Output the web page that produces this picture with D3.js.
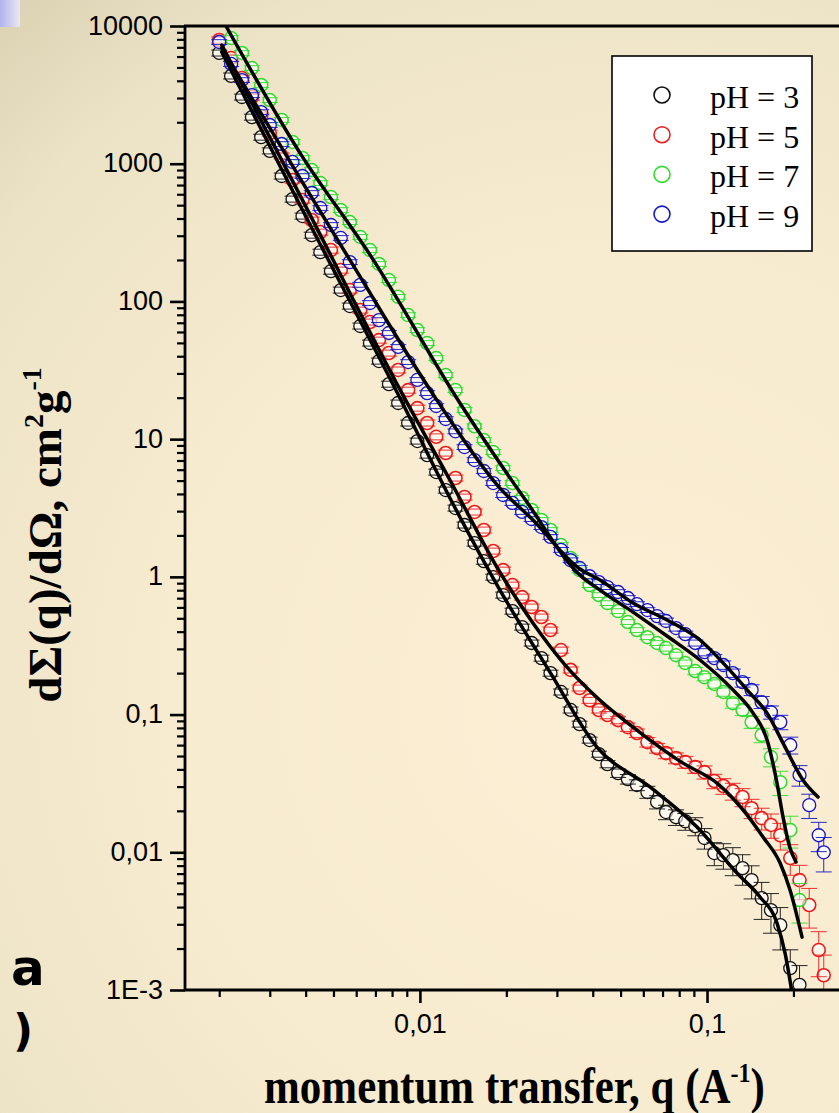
<!DOCTYPE html>
<html>
<head>
<meta charset="utf-8">
<script src="https://cdn.jsdelivr.net/npm/d3@7"></script>
<style>
  html, body { margin: 0; padding: 0; }
  svg { display: block; }
</style>
</head>
<body>
<svg id="chart" width="839" height="1113"></svg>
<script>
// Momentum transfer grid shared by all samples (1/Å)
const qValues = [
  0.0020, 0.0022, 0.0024, 0.0026, 0.0028, 0.0030, 0.0033, 0.0036, 0.0039, 0.0042,
  0.0045, 0.0049, 0.0053, 0.0057, 0.0062, 0.0067, 0.0072, 0.0078, 0.0084, 0.0091,
  0.0098, 0.0106, 0.0114, 0.0123, 0.0133, 0.0143, 0.0155, 0.0167, 0.0180, 0.0195,
  0.0210, 0.0227, 0.0245, 0.0265, 0.0285, 0.0310, 0.0335, 0.0360, 0.0390, 0.0420,
  0.045, 0.049, 0.053, 0.057, 0.062, 0.067, 0.072, 0.078, 0.084, 0.091,
  0.098, 0.106, 0.114, 0.123, 0.133, 0.143, 0.155, 0.167, 0.180, 0.195,
  0.210, 0.227, 0.245, 0.255
];

// Differential cross-section dΣ/dΩ (cm² g⁻¹) per pH, null where not measured
const intensityPH3 = [
  6370, 4340, 3050, 2180, 1560, 1240, 814, 554, 417, 303,
  228, 166, 121, 92.6, 66.3, 49.9, 36.9, 25.1, 18.3, 13.1,
  9.69, 7.66, 5.77, 4.27, 3.16, 2.38, 1.76, 1.30, 0.996, 0.738,
  0.564, 0.432, 0.331, 0.257, 0.200, 0.146, 0.108, 0.0853, 0.0653, 0.0516,
  0.0437, 0.0376, 0.0340, 0.0308, 0.0274, 0.0232, 0.0196, 0.0180, 0.0168, 0.0155,
  0.0127, 0.00987, 0.00954, 0.00878, 0.00768, 0.00628, 0.00465, 0.00380, 0.00296, 0.00144,
  0.00109, null, null, null
];
const intensityPH5 = [
  7910, 5860, 4190, 3050, 2220, 1670, 1140, 761, 545, 390,
  319, 236, 169, 121, 86.6, 70.9, 52.4, 42.2, 31.8, 22.7,
  16.8, 13.1, 10.4, 7.93, 5.22, 3.80, 2.96, 2.19, 1.54, 1.12,
  0.872, 0.713, 0.604, 0.511, 0.411, 0.294, 0.211, 0.156, 0.127, 0.108,
  0.0992, 0.0912, 0.0811, 0.0734, 0.0631, 0.0571, 0.0525, 0.0483, 0.0452, 0.0416,
  0.0382, 0.0329, 0.0303, 0.0278, 0.0252, 0.0209, 0.0177, 0.0158, 0.0133, 0.00908,
  0.00628, 0.00414, 0.00195, 0.00128
];
const intensityPH7 = [
  null, 8180, 6370, 4950, 3730, 2900, 2080, 1440, 1100, 900,
  724, 573, 461, 377, 294, 236, 187, 143, 108, 79.6,
  62.0, 49.9, 38.8, 29.2, 22.7, 16.3, 12.4, 9.85, 8.06, 6.17,
  4.80, 3.74, 3.06, 2.59, 2.19, 1.70, 1.37, 1.12, 0.872, 0.738,
  0.645, 0.564, 0.470, 0.411, 0.365, 0.331, 0.304, 0.270, 0.237, 0.207,
  0.187, 0.167, 0.146, 0.121, 0.108, 0.0882, 0.0710, 0.0491, 0.0323, 0.0145,
  0.00450, null, null, null
];
const intensityPH9 = [
  7650, 5300, 4050, 3150, 2370, 1910, 1390, 1030, 814, 613,
  477, 359, 289, 193, 132, 97.4, 73.2, 59.0, 46.7, 36.3,
  26.9, 21.6, 17.4, 14.0, 11.4, 8.76, 7.05, 5.87, 4.80, 3.93,
  3.44, 2.96, 2.63, 2.30, 1.95, 1.57, 1.32, 1.16, 1.01, 0.917,
  0.843, 0.776, 0.702, 0.634, 0.574, 0.519, 0.478, 0.425, 0.384, 0.331,
  0.284, 0.257, 0.229, 0.200, 0.172, 0.151, 0.123, 0.104, 0.0882, 0.0601,
  0.0364, 0.0220, 0.0133, 0.0100
];

// Relative uncertainties of the measured points
const errorPH3 = [
  0.05, 0.05, 0.05, 0.05, 0.05, 0.05, 0.05, 0.05, 0.05, 0.05,
  0.05, 0.05, 0.05, 0.05, 0.05, 0.05, 0.05, 0.05, 0.05, 0.05,
  0.05, 0.05, 0.05, 0.05, 0.05, 0.05, 0.05, 0.05, 0.05, 0.05,
  0.05, 0.05, 0.05, 0.05, 0.05, 0.05, 0.05, 0.05, 0.05, 0.05,
  0.06, 0.07, 0.08, 0.09, 0.10, 0.11, 0.12, 0.13, 0.14, 0.15,
  0.17, 0.19, 0.21, 0.23, 0.25, 0.27, 0.30, 0.32, 0.34, 0.36,
  0.38, null, null, null
];
const errorPH5 = [
  0.05, 0.05, 0.05, 0.05, 0.05, 0.05, 0.05, 0.05, 0.05, 0.05,
  0.05, 0.05, 0.05, 0.05, 0.05, 0.05, 0.05, 0.05, 0.05, 0.05,
  0.05, 0.05, 0.05, 0.05, 0.05, 0.05, 0.05, 0.05, 0.05, 0.05,
  0.05, 0.05, 0.05, 0.05, 0.05, 0.05, 0.05, 0.05, 0.05, 0.05,
  0.06, 0.06, 0.07, 0.07, 0.08, 0.08, 0.09, 0.09, 0.10, 0.10,
  0.11, 0.12, 0.13, 0.14, 0.15, 0.16, 0.18, 0.20, 0.22, 0.25,
  0.28, 0.32, 0.36, 0.40
];
const errorPH7 = [
  null, 0.04, 0.04, 0.04, 0.04, 0.04, 0.04, 0.04, 0.04, 0.04,
  0.04, 0.04, 0.04, 0.04, 0.04, 0.04, 0.04, 0.04, 0.04, 0.04,
  0.04, 0.04, 0.04, 0.04, 0.04, 0.04, 0.04, 0.04, 0.04, 0.04,
  0.04, 0.04, 0.04, 0.04, 0.04, 0.04, 0.04, 0.04, 0.04, 0.04,
  0.04, 0.04, 0.04, 0.04, 0.04, 0.04, 0.05, 0.05, 0.05, 0.06,
  0.06, 0.07, 0.07, 0.08, 0.09, 0.10, 0.12, 0.15, 0.20, 0.26,
  0.32, null, null, null
];
const errorPH9 = [
  0.04, 0.04, 0.04, 0.04, 0.04, 0.04, 0.04, 0.04, 0.04, 0.04,
  0.04, 0.04, 0.04, 0.04, 0.04, 0.04, 0.04, 0.04, 0.04, 0.04,
  0.04, 0.04, 0.04, 0.04, 0.04, 0.04, 0.04, 0.04, 0.04, 0.04,
  0.04, 0.04, 0.04, 0.04, 0.04, 0.04, 0.04, 0.04, 0.04, 0.04,
  0.04, 0.04, 0.04, 0.04, 0.04, 0.04, 0.05, 0.05, 0.05, 0.05,
  0.06, 0.06, 0.07, 0.07, 0.08, 0.09, 0.10, 0.11, 0.12, 0.14,
  0.17, 0.20, 0.24, 0.28
];

// Model fits
const fitQ_PH3 = [0.00204, 0.00382, 0.00873, 0.01272, 0.0190, 0.02838, 0.04136, 0.0633, 0.0923, 0.1272, 0.1530, 0.1753, 0.1870, 0.1978];
const fitI_PH3 = [6470, 501, 18.0, 3.74, 0.802, 0.2035, 0.0581, 0.0298, 0.01524, 0.00706, 0.00473, 0.00306, 0.00185, 0.00095];
const fitQ_PH5 = [0.00204, 0.00382, 0.00873, 0.01272, 0.0190, 0.02475, 0.03252, 0.04239, 0.05524, 0.0633, 0.08249, 0.1083, 0.1335, 0.1567, 0.1797, 0.1946, 0.2143];
const fitI_PH5 = [7280, 592, 20.9, 5.05, 1.08, 0.462, 0.221, 0.127, 0.0811, 0.0653, 0.0444, 0.0318, 0.0203, 0.0129, 0.00835, 0.00532, 0.00242];
const fitQ_PH7 = [0.00211, 0.00382, 0.00681, 0.01378, 0.02359, 0.0361, 0.04239, 0.05524, 0.07255, 0.09453, 0.1232, 0.1447, 0.1619, 0.1753, 0.1840, 0.1946, 0.2042];
const fitI_PH7 = [10000, 1200, 207, 18.3, 3.49, 1.03, 0.802, 0.555, 0.372, 0.249, 0.151, 0.1025, 0.0653, 0.0318, 0.0180, 0.01073, 0.00849];
const fitQ_PH9 = [0.00204, 0.00382, 0.005843, 0.01146, 0.0190, 0.02475, 0.0361, 0.04239, 0.05524, 0.07255, 0.09453, 0.1174, 0.1412, 0.1619, 0.1840, 0.2160, 0.2436];
const fitI_PH9 = [6920, 787, 184, 19.2, 4.41, 2.59, 1.14, 0.948, 0.645, 0.486, 0.348, 0.221, 0.143, 0.1025, 0.0621, 0.0334, 0.0252];

const seriesNames = ["pH = 3", "pH = 5", "pH = 7", "pH = 9"];
const seriesColors = ["#111111", "#ee1b1b", "#2edb2e", "#1414c8"];

const yTickValues = [10000, 1000, 100, 10, 1, 0.1, 0.01, 0.001];
const yTickLabels = ["10000", "1000", "100", "10", "1", "0,1", "0,01", "1E-3"];
const xTickValues = [0.01, 0.1];
const xTickLabels = ["0,01", "0,1"];

// ---------------------------------------------------------------------------
const W = 839, H = 1113;
const svg = d3.select("#chart");
const defs = svg.append("defs");

// warm paper background, darker towards the upper left
const bgGrad = defs.append("radialGradient")
  .attr("id", "bgGrad").attr("gradientUnits", "userSpaceOnUse")
  .attr("cx", 620).attr("cy", 700).attr("r", 960);
bgGrad.append("stop").attr("offset", 0).attr("stop-color", "#fcefd5");
bgGrad.append("stop").attr("offset", 0.5).attr("stop-color", "#f6eacf");
bgGrad.append("stop").attr("offset", 0.8).attr("stop-color", "#ece3c6");
bgGrad.append("stop").attr("offset", 1).attr("stop-color", "#d8cfb1");
svg.append("rect").attr("width", W).attr("height", H).attr("fill", "url(#bgGrad)");

const cornerGrad = defs.append("linearGradient").attr("id", "cornerGrad");
cornerGrad.append("stop").attr("offset", 0).attr("stop-color", "#b2b2ee");
cornerGrad.append("stop").attr("offset", 1).attr("stop-color", "#eae8f0");
svg.append("rect").attr("x", 0).attr("y", 0).attr("width", 20).attr("height", 27)
  .attr("fill", "url(#cornerGrad)");

// scales
const x = d3.scaleLog().domain([0.00152, 0.3]).range([185, 844]);
const y = d3.scaleLog().domain([0.001, 10000]).range([990, 26]);

defs.append("clipPath").attr("id", "plotClip")
  .append("rect").attr("x", 185).attr("y", 26).attr("width", 659).attr("height", 964);

const series = [
  { name: seriesNames[0], color: seriesColors[0], values: intensityPH3, errors: errorPH3, fitQ: fitQ_PH3, fitI: fitI_PH3, sw: 1.3 },
  { name: seriesNames[1], color: seriesColors[1], values: intensityPH5, errors: errorPH5, fitQ: fitQ_PH5, fitI: fitI_PH5, sw: 1.6 },
  { name: seriesNames[2], color: seriesColors[2], values: intensityPH7, errors: errorPH7, fitQ: fitQ_PH7, fitI: fitI_PH7, sw: 1.5 },
  { name: seriesNames[3], color: seriesColors[3], values: intensityPH9, errors: errorPH9, fitQ: fitQ_PH9, fitI: fitI_PH9, sw: 1.3 }
];

const R = 6.5;      // marker radius
const CAP = 8;      // half width of error-bar caps
const plot = svg.append("g").attr("clip-path", "url(#plotClip)");

// measured points with error bars
series.forEach(s => {
  const pts = qValues.map((q, i) => ({ q, v: s.values[i], e: s.errors[i] }))
    .filter(d => d.v != null);
  const g = plot.append("g");
  g.selectAll("circle").data(pts).join("circle")
    .attr("cx", d => x(d.q)).attr("cy", d => y(d.v)).attr("r", R)
    .attr("fill", "#ffffff").attr("fill-opacity", 0.6)
    .attr("stroke", s.color).attr("stroke-width", s.sw);

  const bars = g.append("g").attr("stroke", s.color).attr("stroke-width", 1)
    .attr("stroke-opacity", 0.9).attr("fill", "none");
  pts.forEach(d => {
    const cx = x(d.q), cy = y(d.v);
    const yt = y(d.v * (1 + d.e)), yb = y(d.v * (1 - d.e));
    if (cy - yt > R) bars.append("line").attr("x1", cx).attr("x2", cx).attr("y1", cy - R).attr("y2", yt);
    if (yb - cy > R) bars.append("line").attr("x1", cx).attr("x2", cx).attr("y1", cy + R).attr("y2", yb);
    bars.append("line").attr("x1", cx - CAP).attr("x2", cx + CAP).attr("y1", yt).attr("y2", yt);
    bars.append("line").attr("x1", cx - CAP).attr("x2", cx + CAP).attr("y1", yb).attr("y2", yb);
  });
});

// fitted curves
const fitLine = d3.line().x(d => x(d[0])).y(d => y(d[1])).curve(d3.curveMonotoneX);
series.forEach(s => {
  plot.append("path")
    .datum(s.fitQ.map((q, i) => [q, s.fitI[i]]))
    .attr("d", fitLine)
    .attr("fill", "none").attr("stroke", "#000").attr("stroke-width", 3.5)
    .attr("stroke-linejoin", "round").attr("stroke-linecap", "round");
});

// axes
const isDecade = v => Math.abs(Math.log10(v) - Math.round(Math.log10(v))) < 1e-6;
const tickFont = "'Liberation Sans', Arial, sans-serif";

const yAxis = d3.axisLeft(y).tickValues(yTickValues)
  .tickFormat((d, i) => yTickLabels[i]).tickSize(15).tickPadding(7).tickSizeOuter(0);
const yMinor = d3.axisLeft(y).tickValues(y.ticks().filter(v => !isDecade(v)))
  .tickFormat("").tickSize(8).tickSizeOuter(0);
const xAxis = d3.axisBottom(x).tickValues(xTickValues)
  .tickFormat((d, i) => xTickLabels[i]).tickSize(13).tickPadding(11).tickSizeOuter(0);
const xMinor = d3.axisBottom(x).tickValues(x.ticks().filter(v => !isDecade(v) && v < 0.3))
  .tickFormat("").tickSize(7).tickSizeOuter(0);

function styleAxis(g, width) {
  g.select(".domain").remove();
  g.selectAll(".tick line").attr("stroke", "#000").attr("stroke-width", width);
  g.selectAll(".tick text").attr("fill", "#000")
    .attr("font-family", tickFont).attr("font-size", 27);
}
svg.append("g").attr("transform", "translate(185,0)").call(yMinor).call(g => styleAxis(g, 2.2));
svg.append("g").attr("transform", "translate(185,0)").call(yAxis).call(g => styleAxis(g, 2.6))
  .selectAll(".tick text").attr("dy", "0.3em");
svg.append("g").attr("transform", "translate(0,990)").call(xMinor).call(g => styleAxis(g, 2.2));
svg.append("g").attr("transform", "translate(0,990)").call(xAxis).call(g => styleAxis(g, 2.6));

// frame lines
const frame = svg.append("g").attr("stroke", "#000").attr("stroke-width", 2.8);
frame.append("line").attr("x1", 185).attr("x2", 185).attr("y1", 26).attr("y2", 990);
frame.append("line").attr("x1", 184).attr("x2", 844).attr("y1", 990).attr("y2", 990);
frame.append("line").attr("x1", 184).attr("x2", 844).attr("y1", 26).attr("y2", 26);

// legend
const legend = svg.append("g");
legend.append("rect").attr("x", 612).attr("y", 56).attr("width", 200).attr("height", 195)
  .attr("fill", "#ffffff").attr("stroke", "#000").attr("stroke-width", 1.6);
series.forEach((s, i) => {
  const cy = 95 + i * 39.7;
  legend.append("circle").attr("cx", 662).attr("cy", cy).attr("r", 8)
    .attr("fill", "#fff").attr("stroke", s.color).attr("stroke-width", 1.6);
  legend.append("text").attr("x", 710).attr("y", cy + 13)
    .attr("font-family", "'Liberation Serif', 'Times New Roman', serif").attr("font-size", 32)
    .attr("fill", "#000").text(s.name);
});

// axis titles
const serif = "'Liberation Serif', 'Times New Roman', serif";
const xTitle = svg.append("g").attr("transform", "translate(264,1103) scale(0.86,1)")
  .append("text").attr("x", 0).attr("y", 0)
  .attr("font-family", serif).attr("font-weight", "bold").attr("font-size", 50)
  .attr("fill", "#000");
xTitle.append("tspan").text("momentum transfer, q (A");
xTitle.append("tspan").attr("font-size", 28).attr("dy", -21).text("-1");
xTitle.append("tspan").attr("dy", 21).text(")");

const yTitle = svg.append("text").attr("transform", "translate(61,535) rotate(-90)")
  .attr("text-anchor", "middle").attr("font-family", serif).attr("font-weight", "bold")
  .attr("font-size", 47).attr("fill", "#000");
yTitle.append("tspan").text("dΣ(q)/dΩ, cm");
yTitle.append("tspan").attr("font-size", 28).attr("dy", -18).text("2");
yTitle.append("tspan").attr("dy", 18).text("g");
yTitle.append("tspan").attr("font-size", 28).attr("dy", -20).text("-1");

// panel label
const panelFont = "'DejaVu Sans', Verdana, sans-serif";
svg.append("text").attr("x", 11).attr("y", 985).attr("font-family", panelFont)
  .attr("font-weight", "bold").attr("font-size", 50).attr("fill", "#000").text("a");
svg.append("text").attr("x", 13).attr("y", 1046).attr("font-family", panelFont)
  .attr("font-weight", "bold").attr("font-size", 44).attr("fill", "#000").text(")");
</script>
</body>
</html>
